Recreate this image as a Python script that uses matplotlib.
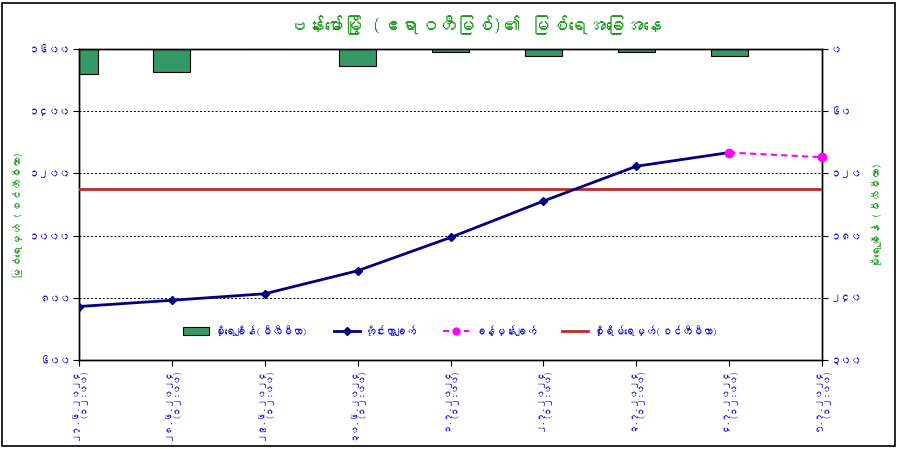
import matplotlib
matplotlib.use('Agg')
import matplotlib.pyplot as plt
from matplotlib import font_manager
from matplotlib.ft2font import FT2Font
from matplotlib.lines import Line2D
from matplotlib.patches import Patch, Rectangle

# data
dates = ['၂၇.၆.၂၀၂၄', '၂၈.၆.၂၀၂၄', '၂၉.၆.၂၀၂၄', '၃၀.၆.၂၀၂၄', '၁.၇.၂၀၂၄',
         '၂.၇.၂၀၂၄', '၃.၇.၂၀၂၄', '၄.၇.၂၀၂၄', '၅.၇.၂၀၂၄']
time_label = '(၁၂:၀၀)'
rainfall = [24, 22, 0, 16, 3, 7, 3, 7, 0]          # mm, right axis
observed = [772, 792, 813, 887, 994, 1111, 1223, 1267]   # cm
forecast_idx = [7, 8]
forecast = [1267, 1252]
warning_level = 1150

left_ticks = [600, 800, 1000, 1200, 1400, 1600]
left_labels = ['၆၀၀', '၈၀၀', '၁၀၀၀', '၁၂၀၀', '၁၄၀၀', '၁၆၀၀']
right_ticks = [0, 60, 120, 180, 240, 300]
right_labels = ['၀', '၆၀', '၁၂၀', '၁၈၀', '၂၄၀', '၃၀၀']

title = 'ဗန်းမော်မြို့ (ဧရာဝတီမြစ်)၏ မြစ်ရေအခြေအနေ'
left_title = 'မြစ်ရေမှတ် (စင်တီမီတာ)'
right_title = 'မိုးရေချိန် (မီလီမီတာ)'
legend_labels = ['မိုးရေချိန်(မီလီမီတာ)', 'တိုင်းတွာချက်', 'ခန့်မှန်းချက်',
                 'စိုးရိမ်ရေမှတ်(စင်တီမီတာ)']


def myanmar_font():
    for f in font_manager.fontManager.ttflist:
        try:
            if 0x1019 in FT2Font(f.fname).get_charmap():
                return f.name
        except Exception:
            continue
    return None


mm = myanmar_font()
plt.rcParams['font.family'] = [mm, 'DejaVu Sans'] if mm else ['DejaVu Sans']

BLUE = '#1a1ad0'
GREEN = '#1f9a1f'

fig = plt.figure(figsize=(8.99, 4.49), dpi=100)
ax = fig.add_axes([0.0879, 0.1982, 0.8265, 0.6927])
ax2 = ax.twinx()

x = list(range(len(dates)))

# rainfall bars hanging from the top (inverted right axis)
ax2.bar(x, rainfall, width=0.4, color='#339966', edgecolor='black', linewidth=0.8, zorder=2)
ax2.set_ylim(300, 0)
ax2.set_yticks(right_ticks)
ax2.set_yticklabels(right_labels, color=BLUE, fontsize=7.5)

ax.set_zorder(ax2.get_zorder() + 1)
ax.patch.set_visible(False)
ax2.set_facecolor('#ccffff')

for v in [800, 1000, 1200, 1400]:
    ax.axhline(v, color='black', linestyle=(0, (2, 2)), linewidth=0.7, zorder=1)

ax.axhline(warning_level, color='#c0282a', linewidth=2, zorder=3)
ax.plot(x[:len(observed)], observed, color='#000080', linewidth=2, marker='D',
        markersize=4, zorder=4)
ax.plot(forecast_idx, forecast, color='#ff00ff', linewidth=1.5, linestyle=(0, (3, 2)),
        marker='o', markersize=6, zorder=5, clip_on=False)

ax.set_xlim(0, len(dates) - 1)
ax.set_ylim(600, 1600)
ax.set_yticks(left_ticks)
ax.set_yticklabels(left_labels, color=BLUE, fontsize=7.5)
ax.set_xticks(x)
ax.set_xticklabels([d + '\n' + time_label for d in dates], rotation=90, color=BLUE,
                   fontsize=6.5, va='top', ha='center', multialignment='right',
                   linespacing=1.0)
ax.tick_params(direction='out', length=4, pad=2)
ax2.tick_params(direction='out', length=4, pad=2)

for a in (ax, ax2):
    for s in a.spines.values():
        s.set_color('black')
        s.set_linewidth(1)

handles = [Patch(facecolor='#339966', edgecolor='black', linewidth=0.8),
           Line2D([], [], color='#000080', linewidth=2, marker='D', markersize=4),
           Line2D([], [], color='#ff00ff', linewidth=1.5, linestyle=(0, (3, 2)), marker='o', markersize=5),
           Line2D([], [], color='#c0282a', linewidth=2)]
ax.legend(handles, legend_labels, loc='center', bbox_to_anchor=(0.5, 0.096), ncol=4,
          frameon=False, fontsize=7.5, labelcolor=BLUE, handlelength=2.5,
          columnspacing=2.5, handletextpad=0.5)

fig.text(0.528, 0.945, title, color=GREEN, fontsize=13.5, fontweight='bold',
         ha='center', va='center')
fig.text(18 / 899, 0.52, left_title, color=GREEN, fontsize=8, rotation=90,
         ha='center', va='center')
fig.text(876 / 899, 0.52, right_title, color=GREEN, fontsize=8, rotation=90,
         ha='center', va='center')
fig.add_artist(Rectangle((2 / 899, 3 / 449), 893 / 899, 443 / 449, transform=fig.transFigure,
                         fill=False, edgecolor='black', linewidth=1.2))

fig.savefig('out.png', dpi=100)
